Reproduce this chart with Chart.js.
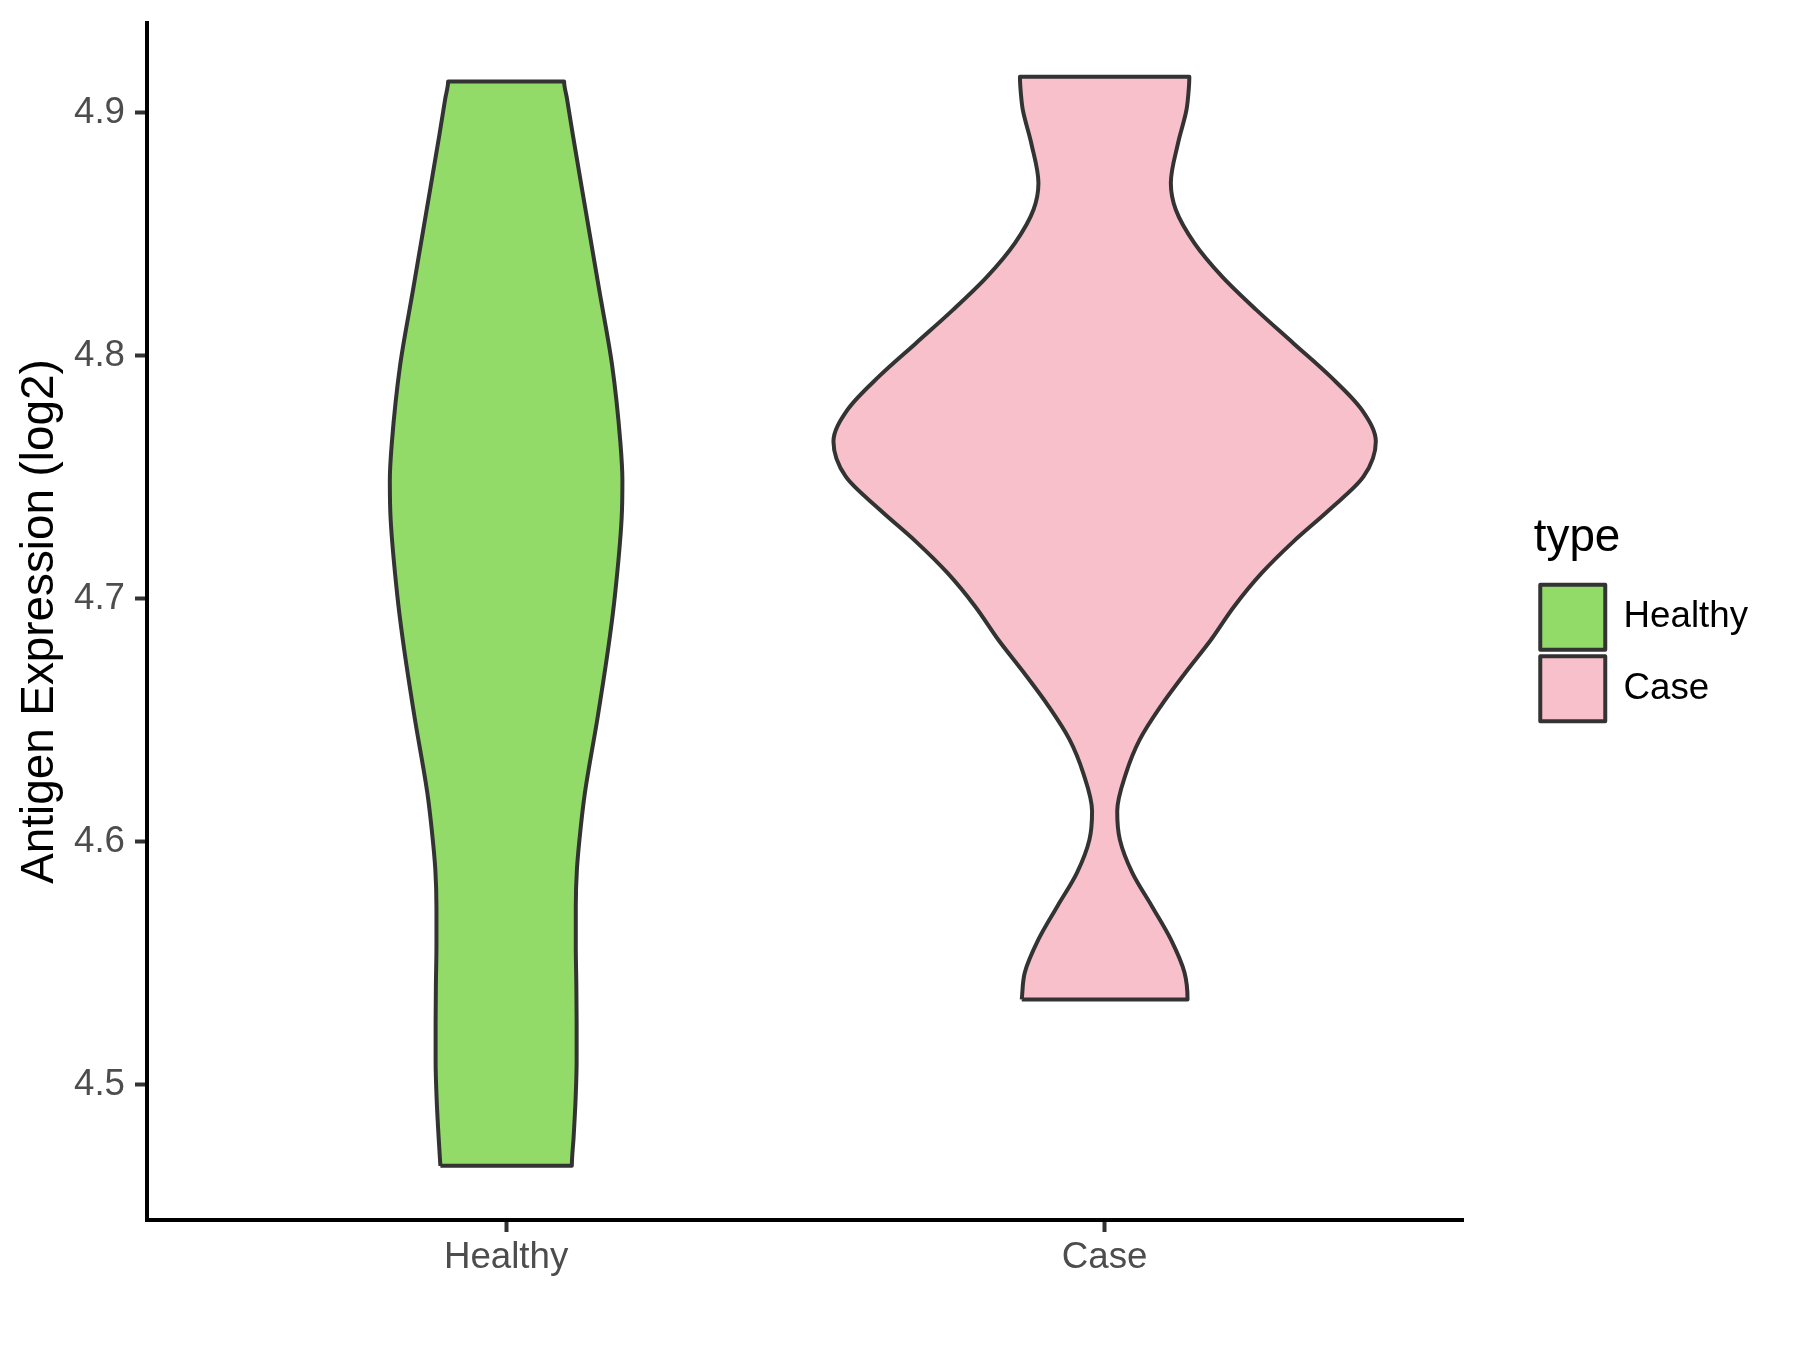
<!DOCTYPE html>
<html>
<head>
<meta charset="utf-8">
<title>Antigen Expression violin</title>
<script src="https://cdn.jsdelivr.net/npm/chart.js@4.4.1/dist/chart.umd.min.js"></script>
<style>
  html, body { margin: 0; padding: 0; background: #ffffff; }
  #wrap { width: 1800px; height: 1350px; }
</style>
</head>
<body>
<div id="wrap"><canvas id="violinChart" width="1800" height="1350"></canvas></div>
<script>
// categories on the x axis (positions 1, 2)
const categories = ['Healthy', 'Case'];
const yTicks = [4.5, 4.6, 4.7, 4.8, 4.9];

// violin outlines: y value and half width (in category units)
const healthyY = [4.4665, 4.4784, 4.4941, 4.5099, 4.5256, 4.5414, 4.5572, 4.5729, 4.5886, 4.6043,
  4.6200, 4.6516, 4.6831, 4.7013, 4.7330, 4.7486, 4.7643, 4.7961, 4.8273, 4.8588, 4.8903, 4.9060, 4.9129];
const healthyHalf = [0.1098, 0.1128, 0.1161, 0.1178, 0.1178, 0.1173, 0.1164, 0.1164, 0.1183, 0.1240,
  0.1316, 0.1532, 0.1726, 0.1818, 0.1930, 0.1943, 0.1909, 0.1771, 0.1554, 0.1336, 0.1119, 0.1016, 0.0969];

const caseY = [4.5350, 4.5460, 4.5597, 4.5734, 4.5871, 4.6008, 4.6125, 4.6283, 4.6420, 4.6557,
  4.6694, 4.6831, 4.6968, 4.7106, 4.7236, 4.7366, 4.7503, 4.7647, 4.7778, 4.7915, 4.8052, 4.8189,
  4.8326, 4.8464, 4.8601, 4.8711, 4.8875, 4.9012, 4.9081, 4.9149];
const caseHalf = [0.1385, 0.1335, 0.1106, 0.0789, 0.0463, 0.0254, 0.0210, 0.0359, 0.0586, 0.0936,
  0.1345, 0.1777, 0.2163, 0.2626, 0.3157, 0.3755, 0.4327, 0.4531, 0.4295, 0.3770, 0.3152, 0.2534,
  0.1963, 0.1499, 0.1189, 0.1106, 0.1226, 0.1367, 0.1400, 0.1415];

const fillColors = ['rgb(147, 219, 105)', 'rgb(248, 192, 203)'];
const outline = '#333333';

// left side bottom -> top, right side top -> bottom, back to start
function violinOutline(center, values, halfWidths) {
  const left = values.map((v, i) => ({ x: center - halfWidths[i], y: v }));
  const right = values.map((v, i) => ({ x: center + halfWidths[i], y: v })).reverse();
  return left.concat(right, [left[0]]);
}

Chart.defaults.font.family = '"Liberation Sans", Arial, sans-serif';

const tickFont = { size: 36.7 };
const titleFont = { size: 45.8 };

const datasets = [
  { label: categories[0], data: violinOutline(1, healthyY, healthyHalf) },
  { label: categories[1], data: violinOutline(2, caseY, caseHalf) }
].map((d, i) => Object.assign(d, {
  xAxisID: 'x',
  yAxisID: 'y',
  indexAxis: 'y',
  fill: 'shape',
  backgroundColor: fillColors[i],
  borderColor: outline,
  borderWidth: 4,
  borderJoinStyle: 'round',
  cubicInterpolationMode: 'monotone',
  pointRadius: 0,
  pointHoverRadius: 0
}));

// drop the automatic edge padding so the panel keeps its own extent
function noEdgePadding(s) {
  s.paddingTop = 0;
  s.paddingBottom = 0;
  s.paddingLeft = 0;
  s.paddingRight = 0;
}

new Chart(document.getElementById('violinChart').getContext('2d'), {
  type: 'line',
  data: { datasets },
  options: {
    responsive: false,
    animation: false,
    events: [],
    indexAxis: 'y',
    devicePixelRatio: 1,
    layout: { padding: { top: 23, left: 0, right: 42, bottom: 0 } },
    plugins: {
      tooltip: { enabled: false },
      legend: {
        position: 'right',
        fullSize: false,
        align: 'center',
        title: {
          display: true,
          text: 'type',
          position: 'start',
          color: '#000000',
          font: titleFont,
          padding: { top: 0, bottom: 8 }
        },
        labels: {
          boxWidth: 65,
          boxHeight: 65,
          padding: 6.5,
          color: '#000000',
          font: tickFont
        }
      }
    },
    scales: {
      x: {
        type: 'linear',
        min: 0.4,
        max: 2.6,
        afterBuildTicks: s => { s.ticks = categories.map((c, i) => ({ value: i + 1 })); },
        afterFit: s => { s.height = 130; noEdgePadding(s); },
        ticks: {
          callback: (v, i) => categories[i],
          color: '#4D4D4D',
          font: tickFont,
          padding: 4,
          maxRotation: 0
        },
        grid: { drawOnChartArea: false, tickLength: 12, tickColor: '#333333', tickWidth: 4 },
        border: { display: true, color: '#000000', width: 4 }
      },
      y: {
        type: 'linear',
        position: 'left',
        min: 4.4442,
        max: 4.937,
        afterBuildTicks: s => { s.ticks = yTicks.map(v => ({ value: v })); },
        afterFit: s => { s.width = 147; noEdgePadding(s); },
        ticks: {
          callback: v => v.toFixed(1),
          color: '#4D4D4D',
          font: tickFont,
          padding: 10
        },
        title: {
          display: true,
          text: 'Antigen Expression (log2)',
          color: '#000000',
          font: titleFont,
          padding: { top: 13, bottom: 0 }
        },
        grid: { drawOnChartArea: false, tickLength: 12, tickColor: '#333333', tickWidth: 4 },
        border: { display: true, color: '#000000', width: 4 }
      },
      // empty axis that keeps the gap between the panel and the legend
      spacer: {
        type: 'linear',
        position: 'right',
        ticks: { display: false },
        grid: { display: false },
        border: { display: false },
        afterFit: s => { s.width = 70; noEdgePadding(s); }
      }
    }
  }
});
</script>
</body>
</html>
